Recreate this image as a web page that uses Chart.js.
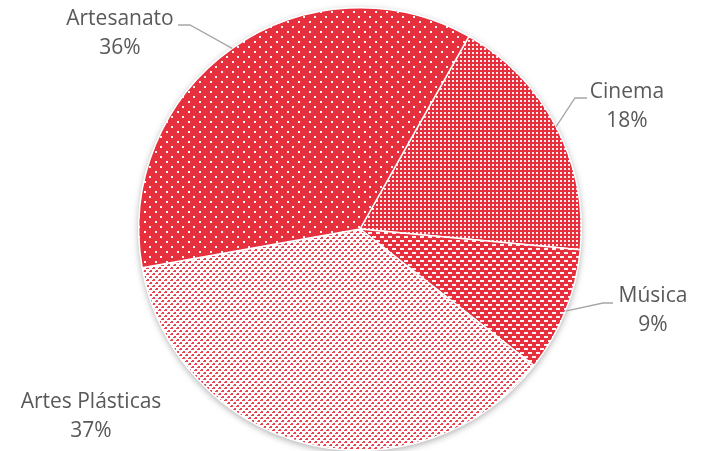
<!DOCTYPE html>
<html>
<head>
<meta charset="utf-8">
<script src="https://cdn.jsdelivr.net/npm/chart.js@4"></script>
<style>
  html, body { margin: 0; padding: 0; background: #fff; }
</style>
</head>
<body>
<canvas id="chart" width="704" height="451"></canvas>
<script>
const categories = ["Cinema", "Música", "Artes Plásticas", "Artesanato"];
const shares = [18.3, 9.1, 36.6, 36.0];
const pctLabels = ["18%", "9%", "37%", "36%"];

const RED = "#e6303e";

// small tiled fills, like Excel's pattern fills
function makePattern(w, h, bg, fg, cells) {
  const c = document.createElement("canvas");
  c.width = w; c.height = h;
  const g = c.getContext("2d");
  g.fillStyle = bg;
  g.fillRect(0, 0, w, h);
  g.fillStyle = fg;
  cells.forEach(([x, y, cw, ch]) => g.fillRect(x, y, cw, ch));
  return g.createPattern(c, "repeat");
}

const ctx = document.getElementById("chart").getContext("2d");
const fills = [
  makePattern(4, 4, RED, "rgba(255,255,255,0.9)", [[0, 0, 2, 2]]),
  makePattern(8, 8, RED, "rgba(255,255,255,0.95)", [[0, 0, 4, 2], [4, 4, 4, 2]]),
  makePattern(6, 6, "#fff", "rgba(230,48,62,0.9)", [[0, 0, 2, 2], [3, 3, 2, 2], [2, 4, 1, 1], [5, 1, 1, 1]]),
  makePattern(11, 10, RED, "rgba(255,255,255,0.95)", [[1, 1, 2, 2], [6, 6, 2, 2]])
];

// label text centres and leader elbows (null = no leader)
const labelSpots = [
  { x: 627, y: 92, elbow: [575, 98], end: [587, 98] },
  { x: 653, y: 296, elbow: [603, 303], end: [613, 303] },
  { x: 91, y: 402, elbow: null },
  { x: 120, y: 19, elbow: [190, 25], end: [178, 25] }
];

const shadowPlugin = {
  id: "pieShadow",
  beforeDatasetsDraw(chart) {
    const arc = chart.getDatasetMeta(0).data[0];
    if (!arc) return;
    const c = chart.ctx;
    c.save();
    c.shadowColor = "rgba(0,0,0,0.35)";
    c.shadowBlur = 7;
    c.shadowOffsetY = 2;
    c.fillStyle = "#fff";
    c.beginPath();
    c.arc(arc.x, arc.y, arc.outerRadius, 0, Math.PI * 2);
    c.fill();
    c.restore();
  }
};

const labelPlugin = {
  id: "outerLabels",
  afterDatasetsDraw(chart) {
    const c = chart.ctx;
    const meta = chart.getDatasetMeta(0);
    c.save();
    meta.data.forEach((arc, i) => {
      const spot = labelSpots[i];
      if (spot.elbow) {
        const mid = (arc.startAngle + arc.endAngle) / 2;
        const ax = arc.x + Math.cos(mid) * arc.outerRadius;
        const ay = arc.y + Math.sin(mid) * arc.outerRadius;
        c.strokeStyle = "#a6a6a6";
        c.lineWidth = 1.3;
        c.beginPath();
        c.moveTo(ax, ay);
        c.lineTo(spot.elbow[0], spot.elbow[1]);
        c.lineTo(spot.end[0], spot.end[1]);
        c.stroke();
      }
      c.fillStyle = "#595959";
      c.font = "21px 'Open Sans', sans-serif";
      c.textAlign = "center";
      c.textBaseline = "middle";
      c.fillText(categories[i], spot.x, spot.y);
      c.fillText(pctLabels[i], spot.x, spot.y + 29);
    });
    c.restore();
  }
};

new Chart(ctx, {
  type: "pie",
  data: {
    labels: categories,
    datasets: [{
      data: shares,
      backgroundColor: fills,
      borderColor: "#fff",
      borderWidth: 1.5
    }]
  },
  options: {
    responsive: false,
    animation: false,
    rotation: 29.5,
    layout: { padding: { left: 16, top: 7, bottom: 0, right: 0 } },
    plugins: {
      legend: { display: false },
      tooltip: { enabled: false }
    }
  },
  plugins: [shadowPlugin, labelPlugin]
});
</script>
</body>
</html>
